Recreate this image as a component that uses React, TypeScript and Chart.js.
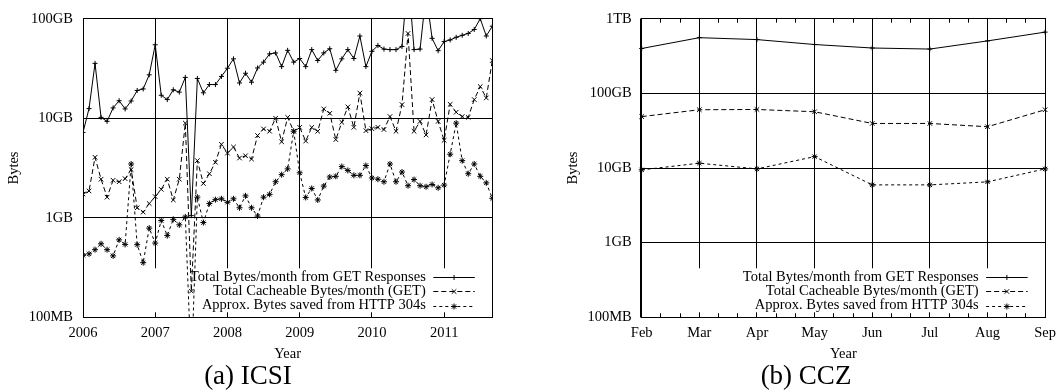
import React, { useEffect, useRef } from 'react';
import { Chart, registerables } from 'chart.js';

Chart.register(...registerables);

const FONT = "'Liberation Serif', 'Times New Roman', Times, serif";

// ---------- (a) ICSI : monthly values in GB, Jan 2006 .. Sep 2011 ----------
const icsiStartYear = 2006;
const icsiTotalGET = [
  7.2, 12.5, 35.6, 10.2, 9.3, 12.7, 15.0, 12.4, 14.9, 19.0, 19.7, 27.3,
  54.7, 17.0, 15.4, 19.3, 18.3, 25.7, 1.05, 25.1, 18.0, 21.8, 21.8, 26.3,
  31.8, 39.5, 22.6, 28.3, 23.0, 32.0, 36.6, 44.3, 45.3, 33.0, 48.1, 36.6,
  39.8, 33.0, 48.9, 38.0, 45.3, 49.9, 30.3, 39.5, 48.9, 39.8, 67.0, 33.0,
  47.0, 53.8, 49.5, 48.9, 48.9, 52.6, 280, 48.9, 49.5, 180, 63.5, 47.7,
  58.9, 61.2, 65.0, 68.1, 71.1, 78.0, 100, 67.0, 84.1,
];
const icsiCacheable = [
  1.73, 1.86, 4.05, 2.44, 1.61, 2.38, 2.3, 2.47, 3.05, 1.26, 1.14, 1.39,
  1.63, 1.93, 2.44, 1.51, 2.44, 8.93, 0.183, 3.75, 2.21, 2.77, 3.61, 5.47,
  4.46, 5.14, 3.98, 4.2, 3.89, 6.7, 7.8, 7.4, 10.0, 5.8, 10.2, 7.4,
  8.1, 5.9, 8.1, 7.4, 12.4, 11.2, 6.1, 9.1, 13.0, 8.1, 17.9, 7.5,
  7.85, 8.1, 7.7, 10.4, 7.4, 13.7, 71.1, 7.4, 9.3, 6.8, 15.4, 9.3,
  6.0, 13.8, 11.5, 10.4, 10.2, 15.4, 20.8, 16.0, 38.0,
];
const icsiSaved304 = [
  0.42, 0.434, 0.478, 0.548, 0.478, 0.414, 0.6, 0.54, 3.47, 0.537, 0.354, 0.787,
  0.557, 0.94, 0.662, 0.964, 0.849, 1.02, 0.03, 1.61, 0.895, 1.39, 1.52, 1.55,
  1.43, 1.55, 1.26, 1.66, 1.26, 1.04, 1.61, 1.72, 2.3, 2.71, 3.1, 7.4,
  2.83, 1.6, 1.97, 1.51, 2.08, 2.57, 2.61, 3.27, 2.99, 2.67, 2.67, 3.35,
  2.51, 2.44, 2.3, 3.47, 2.3, 2.88, 2.1, 2.42, 2.1, 2.05, 2.16, 2.0,
  2.13, 4.35, 8.93, 3.75, 2.77, 3.47, 2.61, 2.24, 1.57,
];
const icsiYTicks = [0.1, 1, 10, 100];
const icsiYLabels = ['100MB', '1GB', '10GB', '100GB'];

// ---------- (b) CCZ : monthly values in GB ----------
const cczMonths = ['Feb', 'Mar', 'Apr', 'May', 'Jun', 'Jul', 'Aug', 'Sep'];
const cczTotalGET = [399, 557, 525, 451, 405, 392, 504, 661];
const cczCacheable = [48.8, 60.3, 60.8, 56.7, 39.5, 39.5, 35.7, 60.3];
const cczSaved304 = [9.44, 11.6, 9.73, 14.2, 5.94, 5.94, 6.52, 9.73];
const cczYTicks = [0.1, 1, 10, 100, 1000];
const cczYLabels = ['100MB', '1GB', '10GB', '100GB', '1TB'];

const seriesLabels = [
  'Total Bytes/month from GET Responses',
  'Total Cacheable Bytes/month (GET)',
  'Approx. Bytes saved from HTTP 304s',
];

const seriesStyles = [
  { dash: [] as number[], point: 'cross', r: 2.5 },
  { dash: [5, 3], point: 'crossRot', r: 3.2 },
  { dash: [3, 3], point: 'star', r: 3 },
];

function align(p: number) {
  return Math.round(p - 0.5) + 0.5;
}

function drawMarker(ctx: CanvasRenderingContext2D, style: string, x: number, y: number, r: number) {
  ctx.beginPath();
  if (style === 'cross' || style === 'star') {
    ctx.moveTo(x - r, y); ctx.lineTo(x + r, y);
    ctx.moveTo(x, y - r); ctx.lineTo(x, y + r);
  }
  if (style === 'crossRot' || style === 'star') {
    const d = r * Math.SQRT1_2;
    ctx.moveTo(x - d, y - d); ctx.lineTo(x + d, y + d);
    ctx.moveTo(x - d, y + d); ctx.lineTo(x + d, y - d);
  }
  ctx.stroke();
}

function makeFramePlugin(id: string, boxInset: number, minorCount: number, thickLeft: boolean) {
  return {
    id,
    beforeDatasetsDraw(chart: any) {
      const { ctx, chartArea } = chart;
      const { left, right, top, bottom } = chartArea;
      ctx.save();
      // opaque key box (hides grid lines)
      ctx.fillStyle = '#fff';
      ctx.fillRect(left + boxInset, bottom - 49, right - 1.5 - (left + boxInset), 44);
      ctx.strokeStyle = '#000';
      ctx.lineWidth = 1;
      ctx.setLineDash([]);
      // minor ticks on x axis
      if (minorCount > 0) {
        const xs = chart.scales.x;
        for (let i = 0; i < minorCount - 1; i++) {
          for (let j = 1; j <= 2; j++) {
            const px = align(xs.getPixelForValue(i + j / 3));
            ctx.beginPath();
            ctx.moveTo(px, top); ctx.lineTo(px, top + 4);
            ctx.moveTo(px, bottom - 4); ctx.lineTo(px, bottom);
            ctx.stroke();
          }
        }
      }
      // key
      ctx.font = `14.5px ${FONT}`;
      ctx.textAlign = 'right';
      ctx.textBaseline = 'middle';
      ctx.fillStyle = '#000';
      const rowY = [bottom - 40.5, bottom - 26.3, bottom - 11.8];
      seriesLabels.forEach((lab, i) => {
        const y = rowY[i];
        ctx.fillText(lab, right - 66.5, y);
        const s = seriesStyles[i];
        const x0 = right - 59;
        const x1 = right - 17.5;
        ctx.setLineDash(s.dash);
        ctx.beginPath();
        ctx.moveTo(x0, Math.round(y) + 0.5);
        ctx.lineTo(x1, Math.round(y) + 0.5);
        ctx.stroke();
        ctx.setLineDash([]);
        drawMarker(ctx, s.point, (x0 + x1) / 2, Math.round(y) + 0.5, s.r);
      });
      // frame
      const l = align(left), r = align(right), t = align(top), b = align(bottom);
      ctx.strokeRect(l, t, r - l, b - t);
      if (thickLeft) {
        ctx.beginPath();
        ctx.moveTo(l - 1, t); ctx.lineTo(l - 1, b);
        ctx.stroke();
      }
      ctx.restore();
    },
  };
}

function datasetsFrom(values: any[][]) {
  return values.map((data, i) => ({
    label: seriesLabels[i],
    data,
    borderColor: '#000',
    borderWidth: 1,
    borderDash: seriesStyles[i].dash,
    pointStyle: seriesStyles[i].point,
    pointRadius: seriesStyles[i].r,
    pointBorderColor: '#000',
    pointBorderWidth: 1,
    pointBackgroundColor: 'rgba(0,0,0,0)',
    fill: false,
    tension: 0,
  }));
}

const tickFont = { family: FONT, size: 14.5 };

function IcsiChart() {
  const ref = useRef<HTMLCanvasElement>(null);
  useEffect(() => {
    const toPts = (arr: number[]) => arr.map((v, i) => ({ x: icsiStartYear + i / 12, y: v }));
    const chart = new Chart(ref.current!, {
      type: 'line',
      data: { datasets: datasetsFrom([toPts(icsiTotalGET), toPts(icsiCacheable), toPts(icsiSaved304)]) as any },
      options: {
        animation: false,
        responsive: false,
        maintainAspectRatio: false,
        devicePixelRatio: 1,
        layout: { padding: { left: 5.3, right: 38.7, top: 11.7, bottom: 28.3 } },
        plugins: { legend: { display: false }, tooltip: { enabled: false } },
        scales: {
          x: {
            type: 'linear',
            min: icsiStartYear,
            max: icsiStartYear + (icsiTotalGET.length - 1) / 12,
            afterFit: (s: any) => { s.height = 45.4; },
            ticks: {
              stepSize: 1, includeBounds: false, padding: 7, color: '#000', font: tickFont,
              maxRotation: 0, autoSkip: false, callback: (v: any) => String(v),
            },
            grid: { color: '#000', lineWidth: 1, drawTicks: false },
            border: { display: false },
            title: { display: true, text: 'Year', color: '#000', font: tickFont, padding: 0 },
          },
          y: {
            type: 'logarithmic',
            min: 0.1,
            max: 100,
            afterBuildTicks: (s: any) => { s.ticks = icsiYTicks.map((v) => ({ value: v })); },
            afterFit: (s: any) => { s.width = 77.7; },
            ticks: {
              padding: 10, color: '#000', font: tickFont, autoSkip: false,
              callback: (v: any) => icsiYLabels[icsiYTicks.indexOf(Number(v))] ?? '',
            },
            grid: { color: '#000', lineWidth: 1, drawTicks: false },
            border: { display: false },
            title: { display: true, text: 'Bytes', color: '#000', font: tickFont, padding: 0 },
          },
        },
      } as any,
      plugins: [makeFramePlugin('icsiFrame', 40, 0, false)],
    });
    return () => chart.destroy();
  }, []);
  return <canvas ref={ref} width={531} height={391} style={{ position: 'absolute', left: 0, top: 0 }} />;
}

function CczChart() {
  const ref = useRef<HTMLCanvasElement>(null);
  useEffect(() => {
    const chart = new Chart(ref.current!, {
      type: 'line',
      data: { labels: cczMonths, datasets: datasetsFrom([cczTotalGET, cczCacheable, cczSaved304]) as any },
      options: {
        animation: false,
        responsive: false,
        maintainAspectRatio: false,
        devicePixelRatio: 1,
        layout: { padding: { left: 33.3, right: 14, top: 12.3, bottom: 28.3 } },
        plugins: { legend: { display: false }, tooltip: { enabled: false } },
        scales: {
          x: {
            type: 'category',
            offset: false,
            afterFit: (s: any) => { s.height = 45.4; },
            ticks: { padding: 7, color: '#000', font: tickFont, maxRotation: 0, autoSkip: false },
            grid: { color: '#000', lineWidth: 1, drawTicks: false, offset: false },
            border: { display: false },
            title: { display: true, text: 'Year', color: '#000', font: tickFont, padding: 0 },
          },
          y: {
            type: 'logarithmic',
            min: 0.1,
            max: 1000,
            afterBuildTicks: (s: any) => { s.ticks = cczYTicks.map((v) => ({ value: v })); },
            afterFit: (s: any) => { s.width = 77.4; },
            ticks: {
              padding: 10, color: '#000', font: tickFont, autoSkip: false,
              callback: (v: any) => cczYLabels[cczYTicks.indexOf(Number(v))] ?? '',
            },
            grid: { color: '#000', lineWidth: 1, drawTicks: false },
            border: { display: false },
            title: { display: true, text: 'Bytes', color: '#000', font: tickFont, padding: 0 },
          },
        },
      } as any,
      plugins: [makeFramePlugin('cczFrame', 30, cczMonths.length, true)],
    });
    return () => chart.destroy();
  }, []);
  return <canvas ref={ref} width={532} height={391} style={{ position: 'absolute', left: 531, top: 0 }} />;
}

const captionStyle: React.CSSProperties = {
  position: 'absolute',
  top: 362.4,
  width: 240,
  textAlign: 'center',
  fontFamily: FONT,
  fontSize: 27,
  lineHeight: '27px',
  color: '#000',
  whiteSpace: 'nowrap',
};

export default function App() {
  return (
    <div style={{ position: 'fixed', left: 0, top: 0, width: 1063, height: 391, background: '#fff', overflow: 'hidden' }}>
      <IcsiChart />
      <CczChart />
      <div style={{ ...captionStyle, left: 248 - 120 }}>(a) ICSI</div>
      <div style={{ ...captionStyle, left: 806 - 120 }}>(b) CCZ</div>
    </div>
  );
}
